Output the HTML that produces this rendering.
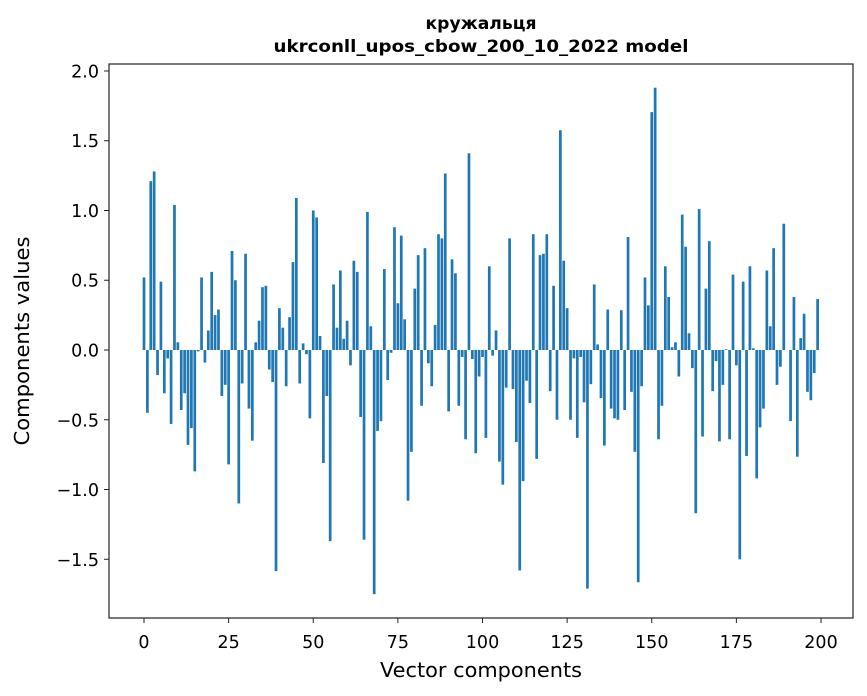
<!DOCTYPE html>
<html><head><meta charset="utf-8"><style>
body{margin:0;background:#fff;}
svg{display:block;font-family:"DejaVu Sans","Liberation Sans",sans-serif;}
</style></head><body>
<svg id="chart" width="867" height="696">
<text x="481" y="29" text-anchor="middle" font-size="17" font-weight="bold" textLength="111" lengthAdjust="spacingAndGlyphs">кружальця</text>
<text x="481" y="52" text-anchor="middle" font-size="17" font-weight="bold" textLength="415" lengthAdjust="spacingAndGlyphs">ukrconll_upos_cbow_200_10_2022 model</text>
<text x="481" y="677" text-anchor="middle" font-size="20" textLength="202" lengthAdjust="spacingAndGlyphs">Vector components</text>
<text transform="translate(29,341) rotate(-90)" text-anchor="middle" font-size="20" textLength="209" lengthAdjust="spacingAndGlyphs">Components values</text>
<g id="bars"></g>
<g id="axes"></g>
</svg>
<script>
const values = [0.52,-0.45,1.21,1.28,-0.18,0.49,-0.31,-0.06,-0.53,1.04,0.055,-0.43,-0.31,-0.68,-0.56,-0.87,-0.01,0.52,-0.09,0.14,
0.56,0.25,0.29,-0.33,-0.25,-0.82,0.71,0.50,-1.10,-0.24,0.69,-0.42,-0.65,0.055,0.21,0.45,0.46,-0.14,-0.23,-1.585,
0.30,0.16,-0.26,0.235,0.63,1.09,-0.24,0.047,-0.03,-0.49,1.00,0.95,0.10,-0.81,-0.33,-1.37,0.47,0.16,0.57,0.08,
0.21,-0.11,0.64,0.56,-0.48,-1.36,0.99,0.17,-1.75,-0.58,-0.51,0.58,-0.215,-0.02,0.88,0.335,0.82,0.22,-1.08,-0.73,
0.44,0.68,-0.40,0.73,-0.095,-0.26,0.18,0.83,0.80,1.265,-0.44,0.65,0.55,-0.40,-0.05,-0.64,1.41,-0.065,-0.74,-0.19,
-0.05,-0.63,0.60,-0.04,0.14,-0.80,-0.965,-0.27,0.80,-0.28,-0.66,-1.58,-0.94,-0.22,-0.38,0.83,-0.78,0.68,0.69,0.83,
-0.295,0.46,-0.50,1.575,0.64,0.30,-0.50,-0.06,-0.63,-0.05,-0.375,-1.71,-0.245,0.47,0.04,-0.345,-0.685,0.29,-0.42,-0.49,
-0.50,0.285,-0.43,0.81,-0.30,-0.73,-1.665,-0.26,0.52,0.32,1.705,1.88,-0.64,-0.40,0.60,0.38,0.02,0.055,-0.19,0.97,
0.74,0.12,-0.13,-1.17,1.01,-0.62,0.44,0.78,-0.295,-0.08,-0.655,-0.25,0.005,-0.64,0.54,-0.11,-1.50,0.49,-0.76,0.60,
0.012,-0.92,-0.555,-0.42,0.57,0.17,0.73,-0.25,-0.12,0.905,0.0,-0.51,0.38,-0.765,0.085,0.26,-0.30,-0.36,-0.165,0.365];
const xTicks = [0,25,50,75,100,125,150,175,200];
const yTicks = [-1.5,-1.0,-0.5,0.0,0.5,1.0,1.5,2.0];
const yTickLabels = ["\u22121.5","\u22121.0","\u22120.5","0.0","0.5","1.0","1.5","2.0"];

const L=109,R=853,T=64,B=618;
const xmin=-10.34,xmax=209.45,ymin=-1.921,ymax=2.05;
const xs=v=>L+(v-xmin)/(xmax-xmin)*(R-L);
const ys=v=>B-(v-ymin)/(ymax-ymin)*(B-T);
const NS="http://www.w3.org/2000/svg";
const bars=document.getElementById('bars');
values.forEach((v,i)=>{
  const r=document.createElementNS(NS,'rect');
  const x0=xs(i-0.4),x1=xs(i+0.4);
  const y0=ys(Math.max(v,0)),y1=ys(Math.min(v,0));
  r.setAttribute('x',x0);r.setAttribute('width',x1-x0);
  r.setAttribute('y',y0);r.setAttribute('height',Math.max(y1-y0,0));
  r.setAttribute('fill','#1f77b4');
  
  
  bars.appendChild(r);
});
const axes=document.getElementById('axes');
const frame=document.createElementNS(NS,'rect');
frame.setAttribute('x',L);frame.setAttribute('y',T);frame.setAttribute('width',R-L);frame.setAttribute('height',B-T);
frame.setAttribute('fill','none');frame.setAttribute('stroke','#222');frame.setAttribute('stroke-width','1.2');


axes.appendChild(frame);
xTicks.forEach(t=>{
  const x=xs(t);
  const l=document.createElementNS(NS,'line');
  l.setAttribute('x1',x);l.setAttribute('x2',x);l.setAttribute('y1',B);l.setAttribute('y2',B+5);l.setAttribute('stroke','#222');
  
  
  axes.appendChild(l);
  const tx=document.createElementNS(NS,'text');
  tx.setAttribute('x',x);tx.setAttribute('y',B+30);tx.setAttribute('text-anchor','middle');tx.setAttribute('font-size','17.5');
  tx.textContent=t;
  
  
  axes.appendChild(tx);
});
yTicks.forEach((t,k)=>{
  const y=ys(t);
  const l=document.createElementNS(NS,'line');
  l.setAttribute('x1',L-5);l.setAttribute('x2',L);l.setAttribute('y1',y);l.setAttribute('y2',y);l.setAttribute('stroke','#222');
  
  
  axes.appendChild(l);
  const tx=document.createElementNS(NS,'text');
  tx.setAttribute('x',L-10);tx.setAttribute('y',y+6.5);tx.setAttribute('text-anchor','end');tx.setAttribute('font-size','17.5');
  tx.textContent=yTickLabels[k];
  
  
  axes.appendChild(tx);
});
</script>
</body></html>
